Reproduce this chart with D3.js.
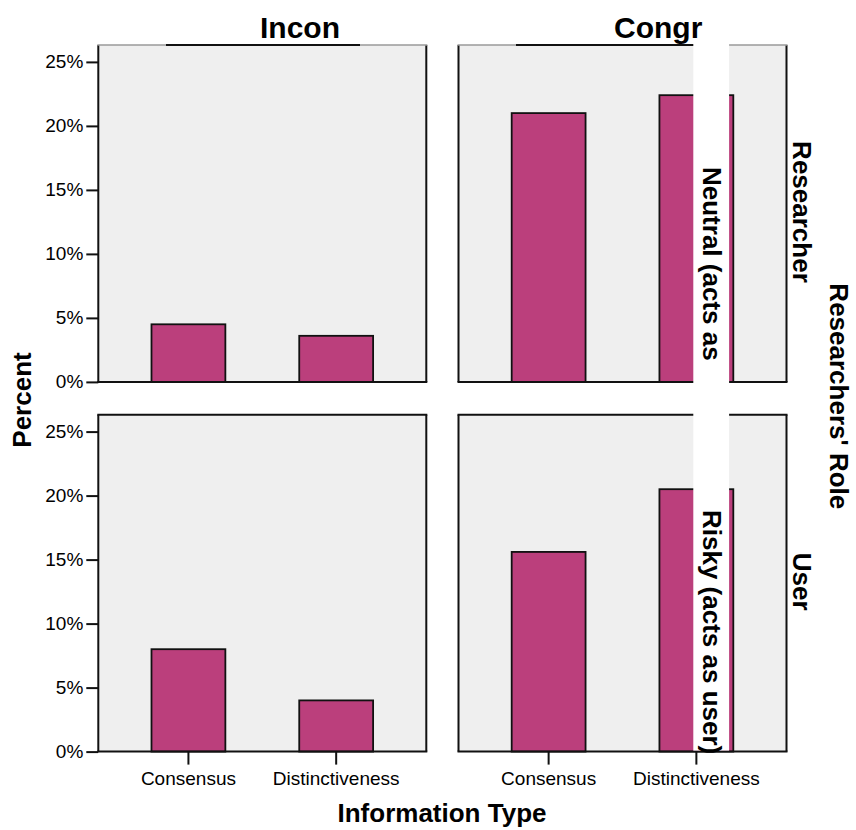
<!DOCTYPE html>
<html>
<head>
<meta charset="utf-8">
<script src="https://cdn.jsdelivr.net/npm/d3@7"></script>
<style>
  html, body { margin: 0; padding: 0; background: #ffffff; }
  svg { display: block; }
  text { font-family: "Liberation Sans", Arial, Helvetica, sans-serif; fill: #000; }
</style>
</head>
<body>
<svg id="chart" width="856" height="830"></svg>
<script>
// ---- data ----
const categories = ["Consensus", "Distinctiveness"];
const columnLabels = ["Incon", "Congr"];
const rowLabels = ["Neutral (acts as", "Risky (acts as user)"];
const rowSubLabels = ["Researcher", "User"];
const facetTitle = "Researchers' Role";
const xTitle = "Information Type";
const yTitle = "Percent";
const yTicks = [0, 5, 10, 15, 20, 25];
const neutralIncon = [4.5, 3.6];
const neutralCongr = [21.0, 22.4];
const riskyIncon = [8.0, 4.0];
const riskyCongr = [15.6, 20.5];

const panelValues = [
  [neutralIncon, neutralCongr],
  [riskyIncon, riskyCongr]
];

// ---- layout ----
const svg = d3.select("#chart");
const colX = [98.3, 458.5];
const panelW = 328;
const rowY = [45, 414.7];
const panelH = 336.9;
const yMax = 26.32;
const barColor = "#bb3f7c";
const panelFill = "#efefef";

const x = d3.scaleBand().domain(categories).range([0, panelW])
  .paddingInner(0.5).paddingOuter(0.36);

for (let r = 0; r < 2; r++) {
  const y = d3.scaleLinear().domain([0, yMax]).range([rowY[r] + panelH, rowY[r]]);
  for (let c = 0; c < 2; c++) {
    const g = svg.append("g").attr("transform", `translate(${colX[c]},0)`);
    g.append("rect")
      .attr("x", 0).attr("y", rowY[r]).attr("width", panelW).attr("height", panelH)
      .attr("fill", panelFill);
    g.selectAll("rect.bar")
      .data(categories.map((k, i) => ({ k, v: panelValues[r][c][i] })))
      .enter().append("rect")
      .attr("class", "bar")
      .attr("x", d => x(d.k))
      .attr("width", x.bandwidth())
      .attr("y", d => y(d.v))
      .attr("height", d => y(0) - y(d.v))
      .attr("fill", barColor)
      .attr("stroke", "#111")
      .attr("stroke-width", 1.8);
    // borders
    const yb = rowY[r] + panelH;
    g.append("line").attr("x1", 0).attr("x2", 0).attr("y1", rowY[r]).attr("y2", yb)
      .attr("stroke", "#111").attr("stroke-width", 2);
    g.append("line").attr("x1", panelW).attr("x2", panelW).attr("y1", rowY[r]).attr("y2", yb)
      .attr("stroke", "#111").attr("stroke-width", 2);
    g.append("line").attr("x1", -1).attr("x2", panelW + 1).attr("y1", yb).attr("y2", yb)
      .attr("stroke", "#111").attr("stroke-width", 2);
    g.append("line").attr("x1", -1).attr("x2", panelW + 1).attr("y1", rowY[r]).attr("y2", rowY[r])
      .attr("stroke", r === 0 ? "#9a9a9a" : "#111").attr("stroke-width", r === 0 ? 1.5 : 2);

    if (c === 0) {
      const ay = g.append("g").call(
        d3.axisLeft(y).tickValues(yTicks).tickFormat(d => d + "%").tickSize(12).tickPadding(3)
      );
      ay.select(".domain").remove();
      ay.selectAll("line").attr("stroke", "#111").attr("stroke-width", 2);
      ay.selectAll("text").style("font-size", "19px").attr("fill", "#000")
        .style("font-family", '"Liberation Sans", Arial, sans-serif');
    }
    if (r === 1) {
      const ax = g.append("g").attr("transform", `translate(0,${yb})`).call(
        d3.axisBottom(x).tickSize(13).tickPadding(7)
      );
      ax.select(".domain").remove();
      ax.selectAll("line").attr("stroke", "#111").attr("stroke-width", 2);
      ax.selectAll("text").style("font-size", "19px").attr("fill", "#000")
        .style("font-family", '"Liberation Sans", Arial, sans-serif');
    }
  }
}

// column title boxes (white with black bottom edge)
const titleBoxes = [[166, 360], [516, 729]];
const titleStart = [260, 614];
titleBoxes.forEach((b, i) => {
  svg.append("rect").attr("x", b[0]).attr("y", 0).attr("width", b[1] - b[0]).attr("height", rowY[0])
    .attr("fill", "#fff");
  svg.append("line").attr("x1", b[0]).attr("x2", b[1]).attr("y1", rowY[0]).attr("y2", rowY[0])
    .attr("stroke", "#111").attr("stroke-width", 2);
  svg.append("text").attr("x", titleStart[i]).attr("y", 37.5)
    .style("font-size", "30px").style("font-weight", "bold")
    .text(columnLabels[i]);
});

// row strip (white vertical band across the right column)
svg.append("rect").attr("x", 693.3).attr("y", 44).attr("width", 35.8).attr("height", 706.6)
  .attr("fill", "#fff");
const stripStart = [167, 510];
rowLabels.forEach((lab, i) => {
  svg.append("text")
    .attr("transform", `translate(703,${stripStart[i]}) rotate(90)`)
    .style("font-size", "26px").style("font-weight", "bold")
    .text(lab);
});
// secondary row labels
rowSubLabels.forEach((lab, i) => {
  const cy = rowY[i] + panelH / 2;
  svg.append("text")
    .attr("transform", `translate(793,${cy - 1.5}) rotate(90)`)
    .attr("text-anchor", "middle")
    .style("font-size", "26px").style("font-weight", "bold")
    .text(lab);
});
// facet title
svg.append("text")
  .attr("transform", `translate(830,${(rowY[0] + rowY[1] + panelH) / 2 - 2}) rotate(90)`)
  .attr("text-anchor", "middle")
  .style("font-size", "26px").style("font-weight", "bold")
  .text(facetTitle);

// axis titles
svg.append("text")
  .attr("transform", `translate(31,400) rotate(-90)`)
  .attr("text-anchor", "middle")
  .style("font-size", "26px").style("font-weight", "bold")
  .text(yTitle);
svg.append("text")
  .attr("x", 442).attr("y", 822)
  .attr("text-anchor", "middle")
  .style("font-size", "26px").style("font-weight", "bold")
  .text(xTitle);
</script>
</body>
</html>
